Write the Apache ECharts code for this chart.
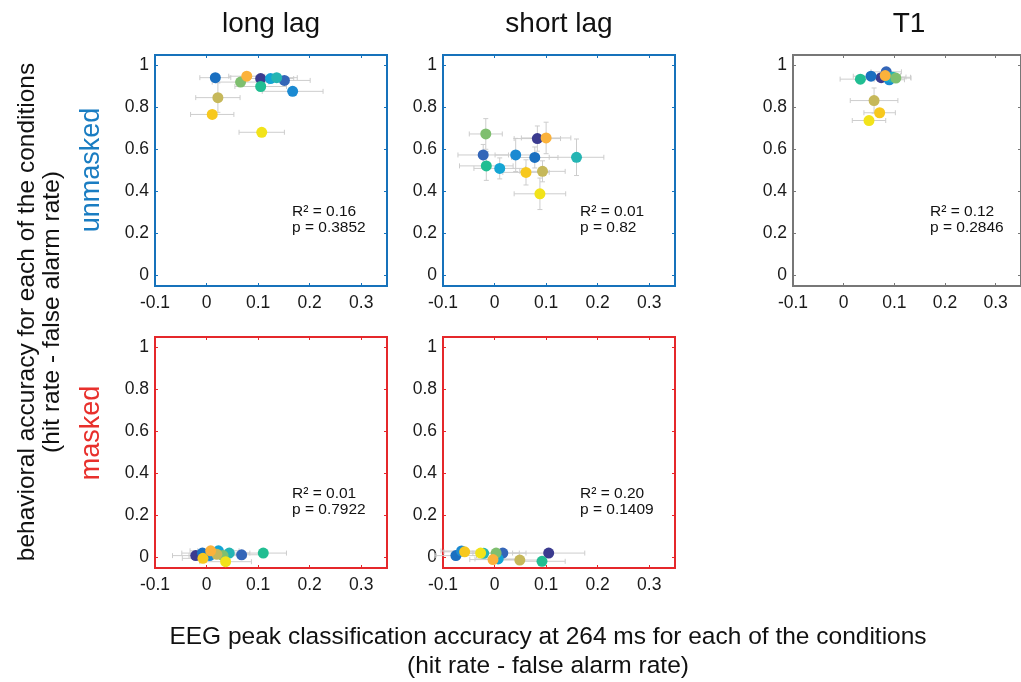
<!DOCTYPE html>
<html>
<head>
<meta charset="utf-8">
<script src="https://cdn.jsdelivr.net/npm/echarts@6/dist/echarts.min.js"></script>
<style>
  html, body { margin: 0; background: #fff; }
  #chart { width: 1021px; height: 682px; }
</style>
</head>
<body>
<div id="chart"></div>
<script>
// one colour per condition (parula-like), index = condition
const palette = ['#3b3b8f', '#3466b8', '#1a6fc0', '#1b8ad2', '#14a5d4', '#25b5b3',
                 '#21be92', '#7fbf6f', '#c6b85a', '#fbb23b', '#f7c81e', '#f2e31a'];

const xTicks = [-0.1, 0, 0.1, 0.2, 0.3];
const yTicks = [0, 0.2, 0.4, 0.6, 0.8, 1];

const panelTitles = ['long lag', 'short lag', 'T1'];
const statR2 = ['0.16', '0.01', '0.12', '0.01', '0.20'];
const statP = ['0.3852', '0.82', '0.2846', '0.7922', '0.1409'];

// long lag, unmasked
const longUnX    = [0.105, 0.151, 0.017, 0.167, 0.124, 0.136, 0.105, 0.066, 0.022, 0.078, 0.011, 0.107];
const longUnY    = [0.938, 0.929, 0.942, 0.877, 0.938, 0.942, 0.900, 0.921, 0.847, 0.949, 0.767, 0.682];
const longUnXErr = [0.040, 0.050, 0.030, 0.059, 0.045, 0.040, 0.050, 0.055, 0.043, 0.035, 0.042, 0.044];
const longUnYErr = [0.015, 0.010, 0.010, 0.010, 0.012, 0.010, 0.012, 0.012, 0.070, 0.018, 0.015, 0.010];

// short lag, unmasked
const shortUnX    = [0.083, -0.022, 0.078, 0.041, 0.010, 0.159, -0.016, -0.017, 0.093, 0.100, 0.061, 0.088];
const shortUnY    = [0.652, 0.574, 0.562, 0.574, 0.510, 0.563, 0.522, 0.674, 0.496, 0.655, 0.491, 0.389];
const shortUnXErr = [0.045, 0.049, 0.045, 0.040, 0.050, 0.053, 0.052, 0.032, 0.044, 0.048, 0.045, 0.050];
const shortUnYErr = [0.060, 0.050, 0.050, 0.079, 0.050, 0.087, 0.069, 0.073, 0.050, 0.075, 0.060, 0.075];

// T1
const t1X    = [0.074, 0.084, 0.054, 0.090, 0.088, 0.097, 0.033, 0.103, 0.060, 0.082, 0.071, 0.050];
const t1Y    = [0.942, 0.970, 0.949, 0.932, 0.945, 0.944, 0.935, 0.940, 0.833, 0.952, 0.775, 0.738];
const t1XErr = [0.035, 0.030, 0.035, 0.030, 0.035, 0.035, 0.040, 0.030, 0.047, 0.030, 0.031, 0.033];
const t1YErr = [0.012, 0.012, 0.012, 0.012, 0.010, 0.010, 0.010, 0.010, 0.060, 0.012, 0.015, 0.012];

// long lag, masked
const longMaX    = [-0.021, 0.068, -0.008, 0.006, 0.023, 0.044, 0.110, 0.032, 0.020, 0.008, -0.007, 0.037];
const longMaY    = [0.009, 0.013, 0.021, 0.009, 0.032, 0.021, 0.021, 0.009, 0.015, 0.032, -0.004, -0.020];
const longMaXErr = [0.045, 0.040, 0.040, 0.040, 0.040, 0.040, 0.045, 0.045, 0.040, 0.040, 0.040, 0.050];
const longMaYErr = [0.008, 0.008, 0.008, 0.008, 0.010, 0.008, 0.008, 0.008, 0.008, 0.010, 0.008, 0.008];

// short lag, masked
const shortMaX    = [0.105, 0.016, -0.075, -0.064, 0.007, -0.021, 0.092, 0.003, 0.049, -0.003, -0.058, -0.027];
const shortMaY    = [0.021, 0.021, 0.009, 0.031, -0.007, 0.020, -0.018, 0.021, -0.012, -0.010, 0.027, 0.021];
const shortMaXErr = [0.070, 0.045, 0.040, 0.040, 0.045, 0.045, 0.045, 0.045, 0.045, 0.045, 0.040, 0.045];
const shortMaYErr = [0.008, 0.008, 0.008, 0.008, 0.008, 0.008, 0.008, 0.008, 0.008, 0.008, 0.008, 0.008];

const panels = [
  { x: longUnX,  y: longUnY,  xe: longUnXErr,  ye: longUnYErr,  left: 155, top: 55,  frame: '#1672bb' },
  { x: shortUnX, y: shortUnY, xe: shortUnXErr, ye: shortUnYErr, left: 443, top: 55,  frame: '#1672bb' },
  { x: t1X,      y: t1Y,      xe: t1XErr,      ye: t1YErr,      left: 793, top: 55,  frame: '#777777' },
  { x: longMaX,  y: longMaY,  xe: longMaXErr,  ye: longMaYErr,  left: 155, top: 337, frame: '#e5282b' },
  { x: shortMaX, y: shortMaY, xe: shortMaXErr, ye: shortMaYErr, left: 443, top: 337, frame: '#e5282b' }
];

const FONT = '"Liberation Sans", Arial, Helvetica, sans-serif';
const W = 232, H = 231;
const fmt = v => String(+v.toFixed(2));

const chart = echarts.init(document.getElementById('chart'));

const grid = [], xAxis = [], yAxis = [], series = [], graphic = [];

panels.forEach((p, i) => {
  grid.push({ left: p.left, top: p.top, width: W, height: H, show: true,
              borderColor: p.frame, borderWidth: 2, backgroundColor: 'transparent' });
  const tick = vals => ({ inside: true, length: 3, customValues: vals, lineStyle: { color: p.frame, width: 1 } });
  const lab = vals => ({ customValues: vals, formatter: fmt, fontSize: 17.5, color: '#1a1a1a', fontFamily: FONT });
  const line = { show: false, onZero: false };
  xAxis.push({ gridIndex: i, type: 'value', min: -0.1, max: 0.35, position: 'bottom',
               axisLine: line, splitLine: { show: false },
               axisTick: tick(xTicks), axisLabel: Object.assign(lab(xTicks), { margin: 8 }) });
  xAxis.push({ gridIndex: i, type: 'value', min: -0.1, max: 0.35, position: 'top',
               axisLine: line, splitLine: { show: false },
               axisTick: tick(xTicks), axisLabel: { show: false } });
  yAxis.push({ gridIndex: i, type: 'value', min: -0.05, max: 1.05, position: 'left',
               axisLine: line, splitLine: { show: false },
               axisTick: tick(yTicks), axisLabel: Object.assign(lab(yTicks), { margin: 6 }) });
  yAxis.push({ gridIndex: i, type: 'value', min: -0.05, max: 1.05, position: 'right',
               axisLine: line, splitLine: { show: false },
               axisTick: tick(yTicks), axisLabel: { show: false } });
});

function errRender(params, api) {
  const x = api.value(0), y = api.value(1), xe = api.value(2), ye = api.value(3);
  const c = api.coord([x, y]);
  const l = api.coord([x - xe, y]), r = api.coord([x + xe, y]);
  const t = api.coord([x, y + ye]), b = api.coord([x, y - ye]);
  const cap = 2.5;
  const st = { stroke: '#cdcdcd', lineWidth: 1 };
  const seg = (x1, y1, x2, y2) => ({ type: 'line', shape: { x1, y1, x2, y2 }, style: st });
  return { type: 'group', children: [
    seg(l[0], c[1], r[0], c[1]), seg(l[0], c[1] - cap, l[0], c[1] + cap), seg(r[0], c[1] - cap, r[0], c[1] + cap),
    seg(c[0], t[1], c[0], b[1]), seg(c[0] - cap, t[1], c[0] + cap, t[1]), seg(c[0] - cap, b[1], c[0] + cap, b[1])
  ] };
}

panels.forEach((p, i) => {
  series.push({
    type: 'custom', xAxisIndex: 2 * i, yAxisIndex: 2 * i, renderItem: errRender, silent: true,
    data: p.x.map((v, k) => [v, p.y[k], p.xe[k], p.ye[k]]), z: 1
  });
});
panels.forEach((p, i) => {
  series.push({
    type: 'scatter', xAxisIndex: 2 * i, yAxisIndex: 2 * i, symbolSize: 11, z: 3,
    data: p.x.map((v, k) => [v, p.y[k]]),
    itemStyle: { opacity: 1, color: params => palette[params.dataIndex] }
  });
});

// titles
panelTitles.forEach((t, i) => {
  graphic.push({ type: 'text', x: panels[i].left + W / 2, y: 24,
    style: { text: t, align: 'center', verticalAlign: 'middle', fontSize: 28, fontFamily: FONT, fill: '#111' } });
});

// R^2 / p annotations
panels.forEach((p, i) => {
  graphic.push({ type: 'text', x: p.left + 137, y: p.top + 149,
    style: { text: 'R\u00b2 = ' + statR2[i] + '\np = ' + statP[i], align: 'left', verticalAlign: 'top',
             fontSize: 15.5, lineHeight: 16, fontFamily: FONT, fill: '#111' } });
});

// row labels
graphic.push({ type: 'text', x: 92, y: 170, rotation: Math.PI / 2,
  style: { text: 'unmasked', align: 'center', verticalAlign: 'middle', fontSize: 27, fontFamily: FONT, fill: '#1a7dc2' } });
graphic.push({ type: 'text', x: 92, y: 433, rotation: Math.PI / 2,
  style: { text: 'masked', align: 'center', verticalAlign: 'middle', fontSize: 27, fontFamily: FONT, fill: '#e8302c' } });

// axis titles
graphic.push({ type: 'text', x: 40, y: 312, rotation: Math.PI / 2,
  style: { text: 'behavioral accuracy for each of the conditions\n(hit rate - false alarm rate)',
           align: 'center', verticalAlign: 'middle', fontSize: 24.5, lineHeight: 25, fontFamily: FONT, fill: '#111' } });
graphic.push({ type: 'text', x: 548, y: 652,
  style: { text: 'EEG peak classification accuracy at 264 ms for each of the conditions\n(hit rate - false alarm rate)',
           align: 'center', verticalAlign: 'middle', fontSize: 24.5, lineHeight: 29, fontFamily: FONT, fill: '#111' } });

chart.setOption({
  animation: false,
  grid, xAxis, yAxis, series, graphic
});
</script>
</body>
</html>
